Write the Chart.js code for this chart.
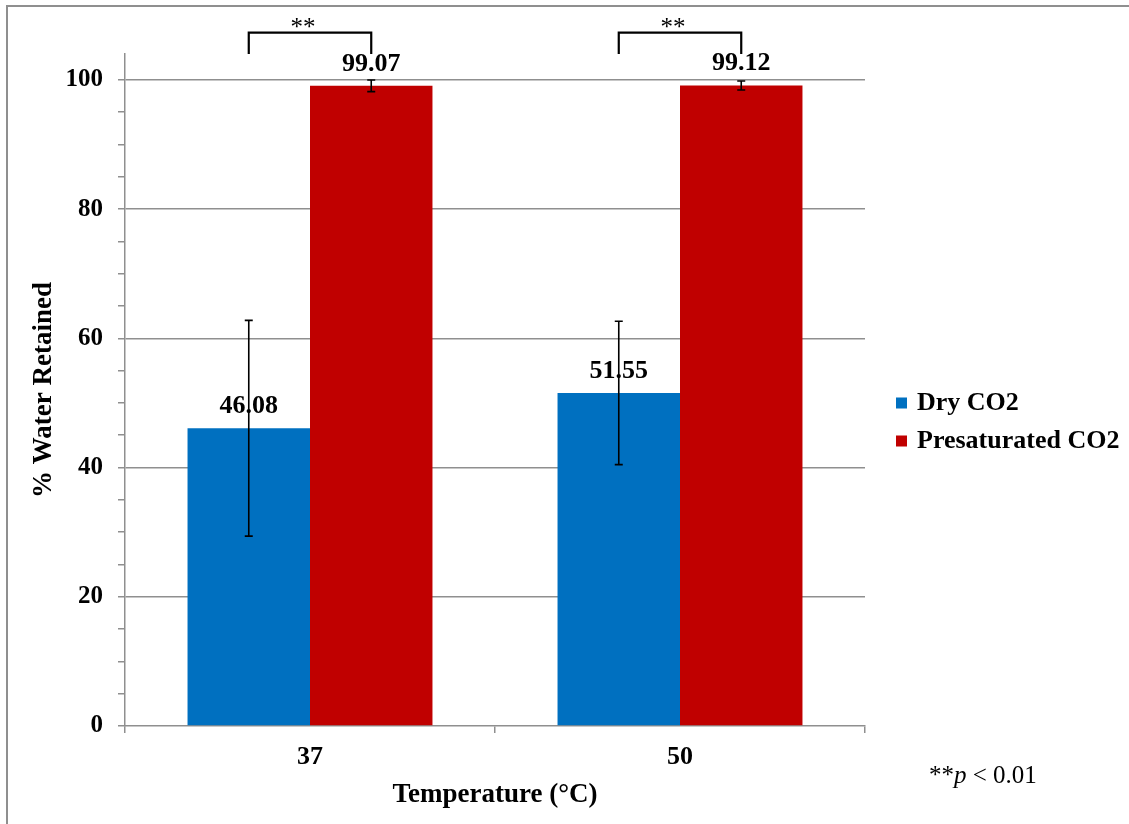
<!DOCTYPE html>
<html>
<head>
<meta charset="utf-8">
<script src="https://cdn.jsdelivr.net/npm/chart.js@4.4.1/dist/chart.umd.min.js"></script>
<style>
  html, body { margin: 0; padding: 0; background: #ffffff; overflow: hidden; }
  #wrap { position: relative; width: 1129px; height: 824px; }
  #frame { position: absolute; left: 6px; top: 5px; width: 1200px; height: 900px;
           border-top: 2px solid #8f8f8f; border-left: 2px solid #8f8f8f; }
  canvas { position: absolute; left: 0; top: 0; }
</style>
</head>
<body>
<div id="wrap">
  <div id="frame"></div>
  <canvas id="c" width="1129" height="824"></canvas>
</div>
<script>
// ---- data ----
const categories = ['37', '50'];
const seriesNames = ['Dry CO2', 'Presaturated CO2'];
const dryValues = [46.08, 51.55];
const presatValues = [99.07, 99.12];
const dryErrors = [16.7, 11.1];
const presatErrors = [0.9, 0.7];
const yMajorStep = 20;
const yMinorStep = 5;
const yLastTick = 100;
const yMax = 104;
const bracketTop = 107.3;
const bracketLegBottom = 104;
const bracketLabel = '**';
const xTitle = 'Temperature (°C)';
const yTitle = '% Water Retained';

const SERIF = "'Liberation Serif', 'Times New Roman', serif";
const GRID = '#8f8f8f';
const colors = ['#0070c0', '#c00000'];

const errorsBySeries = [dryErrors, presatErrors];

const overlay = {
  id: 'overlay',
  afterDatasetsDraw(chart) {
    const ctx = chart.ctx;
    const y = chart.scales.y;
    ctx.save();
    // value labels
    ctx.font = "bold 26px " + SERIF;
    ctx.fillStyle = '#000';
    ctx.textAlign = 'center';
    ctx.textBaseline = 'middle';
    chart.data.datasets.forEach((ds, di) => {
      chart.getDatasetMeta(di).data.forEach((bar, i) => {
        ctx.fillText(ds.data[i].toFixed(2), bar.x, bar.y - 22);
      });
    });
    // error bars
    ctx.strokeStyle = '#000';
    ctx.lineWidth = 1.6;
    chart.data.datasets.forEach((ds, di) => {
      chart.getDatasetMeta(di).data.forEach((bar, i) => {
        const v = ds.data[i], e = errorsBySeries[di][i];
        const yt = y.getPixelForValue(v + e), yb = y.getPixelForValue(v - e);
        ctx.beginPath();
        ctx.moveTo(bar.x, yt); ctx.lineTo(bar.x, yb);
        ctx.moveTo(bar.x - 4, yt); ctx.lineTo(bar.x + 4, yt);
        ctx.moveTo(bar.x - 4, yb); ctx.lineTo(bar.x + 4, yb);
        ctx.stroke();
      });
    });
    // significance brackets
    const m0 = chart.getDatasetMeta(0).data, m1 = chart.getDatasetMeta(1).data;
    ctx.lineWidth = 2.2;
    categories.forEach((c, i) => {
      const x1 = m0[i].x, x2 = m1[i].x;
      const yt = y.getPixelForValue(bracketTop), yb = y.getPixelForValue(bracketLegBottom);
      ctx.beginPath();
      ctx.moveTo(x1, yb); ctx.lineTo(x1, yt); ctx.lineTo(x2, yt); ctx.lineTo(x2, yb);
      ctx.stroke();
      ctx.font = "25px " + SERIF;
      ctx.textBaseline = 'alphabetic';
      ctx.fillText(bracketLabel, (x1 + x2) / 2 - 7, yt + 2);
    });
    ctx.restore();
  },
  afterDraw(chart) {
    const ctx = chart.ctx;
    const area = chart.chartArea;
    ctx.save();
    // legend
    ctx.textAlign = 'left';
    ctx.textBaseline = 'middle';
    ctx.font = "bold 26px " + SERIF;
    const lx = area.right + 31;
    const ly = [403, 441];
    seriesNames.forEach((n, i) => {
      ctx.fillStyle = colors[i];
      ctx.fillRect(lx, ly[i] - 5.5, 11, 11);
      ctx.fillStyle = '#000';
      ctx.fillText(n, lx + 21, ly[i]);
    });
    // p-value note
    let nx = area.right + 64;
    const ny = 783;
    ctx.textBaseline = 'alphabetic';
    ctx.font = "25px " + SERIF;
    ctx.fillText('**', nx, ny); nx += ctx.measureText('**').width;
    ctx.font = "italic 25px " + SERIF;
    ctx.fillText('p', nx, ny); nx += ctx.measureText('p').width;
    ctx.font = "25px " + SERIF;
    ctx.fillText(' < 0.01', nx, ny);
    ctx.restore();
  }
};

new Chart(document.getElementById('c'), {
  type: 'bar',
  data: {
    labels: categories,
    datasets: [
      { label: seriesNames[0], data: dryValues, backgroundColor: colors[0], borderWidth: 0 },
      { label: seriesNames[1], data: presatValues, backgroundColor: colors[1], borderWidth: 0 }
    ]
  },
  options: {
    responsive: false,
    animation: false,
    devicePixelRatio: 1,
    layout: { padding: { top: 54, right: 264, bottom: 0, left: 0 } },
    datasets: { bar: { categoryPercentage: 0.662, barPercentage: 1.0 } },
    plugins: { legend: { display: false }, tooltip: { enabled: false } },
    scales: {
      x: {
        grid: { offset: true, drawOnChartArea: false, drawTicks: true, tickLength: 7, color: GRID, tickColor: GRID, lineWidth: 1.5 },
        border: { color: GRID, width: 1.5 },
        ticks: { color: '#000', font: { family: SERIF, size: 26, weight: 'bold' }, padding: 9 },
        title: { display: true, text: xTitle, color: '#000', font: { family: SERIF, size: 27, weight: 'bold' }, padding: { top: 0, bottom: 13 } },
        afterFit(s) { s.height = 98; }
      },
      y: {
        min: 0, max: yMax,
        afterBuildTicks(s) {
          const t = [];
          for (let v = 0; v <= yLastTick; v += yMinorStep) t.push({ value: v });
          s.ticks = t;
        },
        grid: {
          color: c => (c.tick && c.tick.value % yMajorStep === 0 && c.tick.value !== 0) ? GRID : 'rgba(0,0,0,0)',
          tickColor: GRID, tickLength: 7, lineWidth: 1.5
        },
        border: { color: GRID, width: 1.5 },
        ticks: {
          stepSize: yMinorStep, padding: 15, color: '#000',
          font: { family: SERIF, size: 25, weight: 'bold' },
          callback: v => (v % yMajorStep === 0 ? String(v) : '')
        },
        title: { display: true, text: yTitle, color: '#000', font: { family: SERIF, size: 27, weight: 'bold' }, padding: { top: 28, bottom: 0 } },
        afterFit(s) { s.width = 125; }
      }
    }
  },
  plugins: [overlay]
});
</script>
</body>
</html>
